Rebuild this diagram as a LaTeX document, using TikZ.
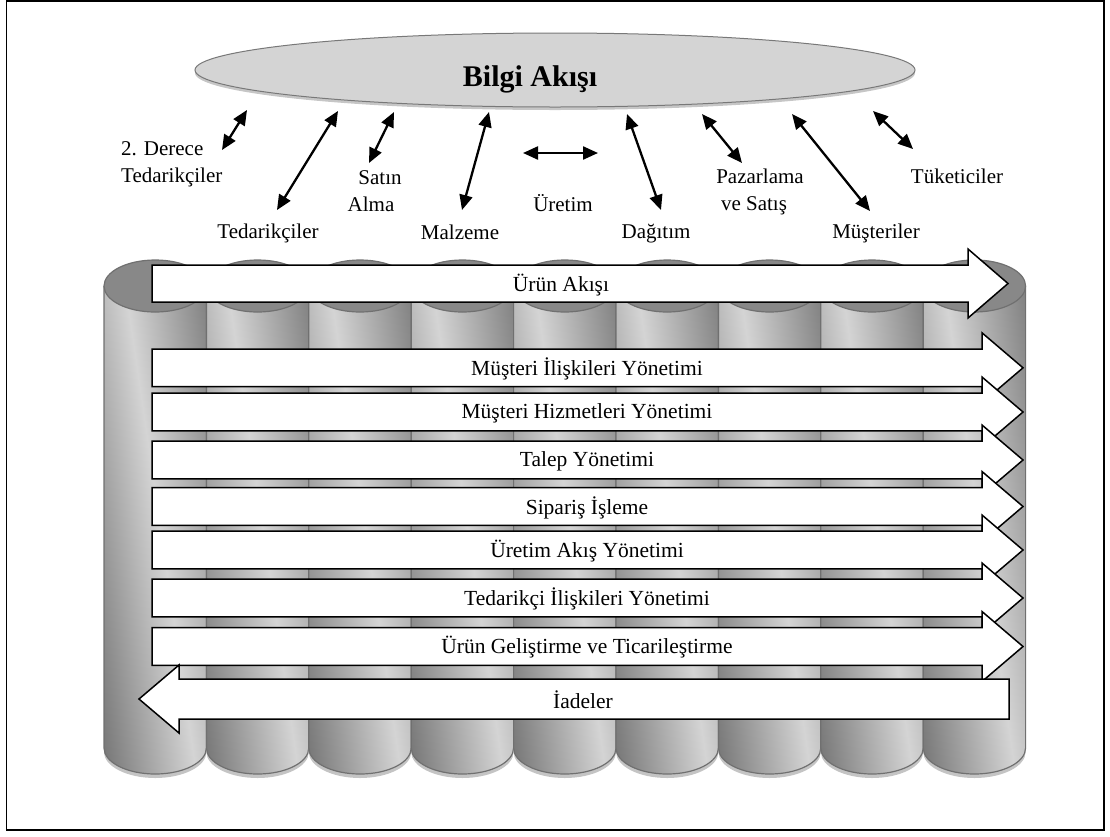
\documentclass[tikz,border=0pt]{standalone}
\usepackage{fontspec}
\setmainfont{Liberation Serif}
\usetikzlibrary{arrows.meta,shapes.geometric,shadows}

\definecolor{cylLight}{RGB}{212,212,212}
\definecolor{cylDark}{RGB}{108,108,108}
\definecolor{cylTop}{RGB}{136,136,136}
\definecolor{cylEdge}{RGB}{112,112,112}
\definecolor{cylShadow}{RGB}{196,196,196}
\definecolor{ovalLight}{RGB}{212,212,212}
\definecolor{ovalDark}{RGB}{150,150,150}
\definecolor{ovalEdge}{RGB}{120,120,120}

\pgfdeclareradialshading{oval}{\pgfpoint{0bp}{0bp}}{%
  color(0bp)=(ovalLight); color(30bp)=(ovalLight); color(50bp)=(ovalDark)}

\begin{document}
\begin{tikzpicture}[x=1pt,y=-1pt,
  lbl/.style={font=\fontsize{21}{27}\selectfont, inner sep=0pt},
  flowtxt/.style={font=\fontsize{21.5}{24}\selectfont, inner sep=0pt},
  link/.style={line width=2.3pt,
    {Triangle[length=15pt,width=13pt]}-{Triangle[length=15pt,width=13pt]}},
  blockarrow/.style={draw=black, line width=1.5pt, fill=white, line join=miter},
  cylbody/.style={draw=cylEdge, line width=1.2pt},
]
\useasboundingbox (0,0) rectangle (1110,836);

% outer frame
\draw[line width=1.5pt] (6.5,1) rectangle (1104,830);

% information flow oval
\node[ellipse, minimum width=720pt, minimum height=74pt, inner sep=0pt,
      shade, shading=oval, draw=ovalEdge, line width=1pt,
      drop shadow={shadow xshift=0pt, shadow yshift=-3pt, opacity=0.45, fill=gray}]
      (info) at (555,70) {};
\node[font=\bfseries\fontsize{30}{36}\selectfont, anchor=base, inner sep=0pt]
      (infotxt) at (530,86.5) {Bilgi Akışı};

% labels of the chain members
\node[lbl, anchor=base west] (derece1) at (121,155) {2. Derece};
\node[lbl, anchor=base west] (derece2) at (121,182) {Tedarikçiler};
\node[lbl, anchor=base] (tedarik) at (268,238) {Tedarikçiler};
\node[lbl, anchor=base] (satin1) at (380,184) {Satın};
\node[lbl, anchor=base] (satin2) at (371,211) {Alma};
\node[lbl, anchor=base] (malzeme) at (460,239) {Malzeme};
\node[lbl, anchor=base] (uretim) at (563,211) {Üretim};
\node[lbl, anchor=base] (dagitim) at (656,238) {Dağıtım};
\node[lbl, anchor=base] (pazar1) at (760,183) {Pazarlama};
\node[lbl, anchor=base] (pazar2) at (754,210) {ve Satış};
\node[lbl, anchor=base] (musteri) at (876,238) {Müşteriler};
\node[lbl, anchor=base] (tuketici) at (957,183) {Tüketiciler};

% two-way information links
\coordinate (l1a) at (222,150); \coordinate (l1b) at (247,110);
\coordinate (l2a) at (277,210); \coordinate (l2b) at (338,111);
\coordinate (l3a) at (369,163); \coordinate (l3b) at (394,112);
\coordinate (l4a) at (462,210); \coordinate (l4b) at (489,112);
\coordinate (l5a) at (523,153); \coordinate (l5b) at (598,153);
\coordinate (l6a) at (661,210); \coordinate (l6b) at (627,114);
\coordinate (l7a) at (742,163); \coordinate (l7b) at (702,114);
\coordinate (l8a) at (870,211); \coordinate (l8b) at (792,114);
\coordinate (l9a) at (913,149); \coordinate (l9b) at (873,111);
\foreach \k in {1,...,9}{\draw[link] (l\k a) -- (l\k b);}

% nine cylinders
\foreach \i in {0,...,8}{
  \pgfmathsetmacro\xl{104+102.4*\i}
  \pgfmathsetmacro\xr{\xl+102.4}
  \pgfmathsetmacro\xc{\xl+51.2}
  \fill[cylShadow] (\xl,292) -- (\xl,752)
     arc[start angle=180,end angle=0,x radius=51.2,y radius=26] -- (\xr,292) -- cycle;
  \begin{scope}
    \clip (\xl,286) -- (\xl,748)
       arc[start angle=180,end angle=0,x radius=51.2,y radius=26]
       -- (\xr,286) arc[start angle=0,end angle=-180,x radius=51.2,y radius=26] -- cycle;
    \begin{scope}[transform canvas={rotate around={8.3:(\xl+56.5,530)}}]
      \shade[left color=cylDark, right color=cylDark, middle color=cylLight]
        (\xl-43.5,190) rectangle (\xl+156.5,870);
    \end{scope}
  \end{scope}
  \draw[cylbody] (\xl,286) -- (\xl,748)
     arc[start angle=180,end angle=0,x radius=51.2,y radius=26] -- (\xr,286);
  \filldraw[fill=cylTop, draw=cylEdge, line width=1.2pt]
     (\xc,286) ellipse[x radius=51.2, y radius=26];
}

% product flow
\draw[blockarrow] (152,265) -- (968,265) -- (968,249) -- (1008,283.5)
   -- (968,318) -- (968,302) -- (152,302) -- cycle;
\node[flowtxt] (urunakisi) at (561,285) {Ürün Akışı};

% supply chain processes
\foreach \yc/\txt [count=\k] in {
   367.8/Müşteri İlişkileri Yönetimi,
   412/Müşteri Hizmetleri Yönetimi,
   460/Talep Yönetimi,
   506.5/Sipariş İşleme,
   550/Üretim Akış Yönetimi,
   598/Tedarikçi İlişkileri Yönetimi,
   646.5/Ürün Geliştirme ve Ticarileştirme}{
  \draw[blockarrow] (152,\yc-18.8) -- (982,\yc-18.8) -- (982,\yc-35)
     -- (1023,\yc) -- (982,\yc+35) -- (982,\yc+18.8) -- (152,\yc+18.8) -- cycle;
  \node[flowtxt] (proc\k) at (587,\yc+1) {\txt};
}

% returns
\draw[blockarrow] (1009,679) -- (179,679) -- (179,665) -- (139,699)
   -- (179,733) -- (179,719) -- (1009,719) -- cycle;
\node[flowtxt] (iadeler) at (583,700) {İadeler};
\end{tikzpicture}
\end{document}
